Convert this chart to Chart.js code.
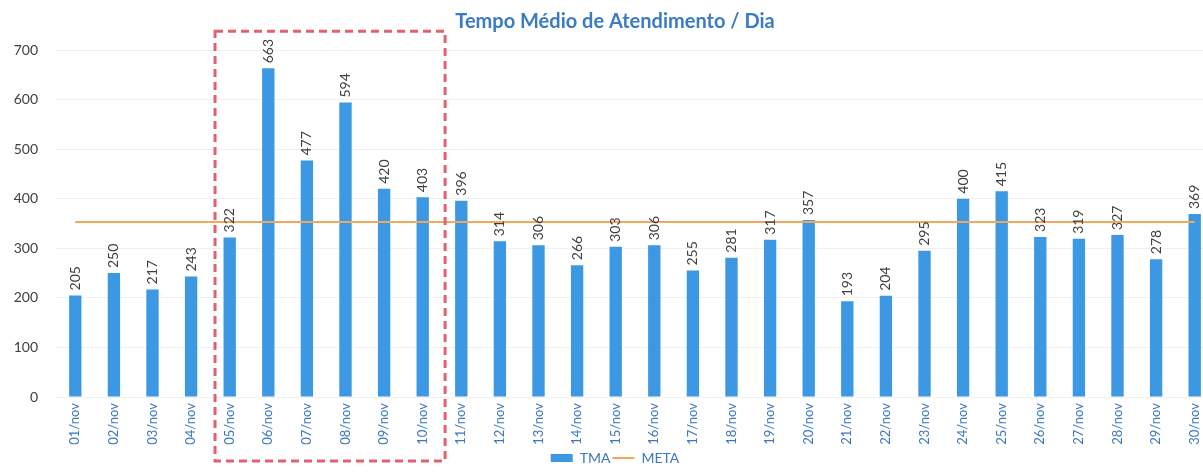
<!DOCTYPE html>
<html>
<head>
<meta charset="utf-8">
<script src="https://cdn.jsdelivr.net/npm/chart.js@4/dist/chart.umd.min.js"></script>
<style>
  html, body { margin: 0; padding: 0; background: #fff; overflow: hidden; }
  #wrap { width: 1230px; height: 475px; position: relative; }
</style>
</head>
<body>
<div id="wrap"><canvas id="tma-chart"></canvas></div>
<script>
// Dados
const dias = ['01/nov', '02/nov', '03/nov', '04/nov', '05/nov', '06/nov', '07/nov', '08/nov', '09/nov', '10/nov',
  '11/nov', '12/nov', '13/nov', '14/nov', '15/nov', '16/nov', '17/nov', '18/nov', '19/nov', '20/nov',
  '21/nov', '22/nov', '23/nov', '24/nov', '25/nov', '26/nov', '27/nov', '28/nov', '29/nov', '30/nov'];
const tma = [205, 250, 217, 243, 322, 663, 477, 594, 420, 403,
  396, 314, 306, 266, 303, 306, 255, 281, 317, 357,
  193, 204, 295, 400, 415, 323, 319, 327, 278, 369];
const meta = [353, 353, 353, 353, 353, 353, 353, 353, 353, 353,
  353, 353, 353, 353, 353, 353, 353, 353, 353, 353,
  353, 353, 353, 353, 353, 353, 353, 353, 353, 353];
const yTicks = [0, 100, 200, 300, 400, 500, 600, 700];

// destaque: 05/nov a 10/nov
const destaqueInicio = 4;
const destaqueFim = 9;

const FONT = "'Lato', 'Open Sans', sans-serif";

// rótulos de valor em cima das barras (rotacionados)
const valueLabels = {
  id: 'valueLabels',
  afterDatasetsDraw(chart) {
    const meta0 = chart.getDatasetMeta(0);
    const ctx = chart.ctx;
    ctx.save();
    ctx.fillStyle = '#404040';
    ctx.font = '14px ' + FONT;
    ctx.textAlign = 'left';
    ctx.textBaseline = 'middle';
    meta0.data.forEach((bar, i) => {
      ctx.save();
      ctx.translate(bar.x, bar.y - 5);
      ctx.rotate(-Math.PI / 2);
      ctx.fillText(String(tma[i]), 0, 0);
      ctx.restore();
    });
    ctx.restore();
  }
};

// retângulo tracejado vermelho
const destaqueBox = {
  id: 'destaqueBox',
  afterDraw(chart) {
    const x = chart.scales.x;
    const area = chart.chartArea;
    const w = x.getPixelForValue(1) - x.getPixelForValue(0);
    const left = x.getPixelForValue(destaqueInicio) - w * 0.38;
    const right = x.getPixelForValue(destaqueFim) + w * 0.58;
    const top = chart.scales.y.getPixelForValue(738);
    const bottom = area.bottom + 64;
    const ctx = chart.ctx;
    ctx.save();
    ctx.strokeStyle = '#e2606f';
    ctx.lineWidth = 3;
    ctx.setLineDash([8, 5]);
    ctx.strokeRect(left, top, right - left, bottom - top);
    ctx.restore();
  }
};

new Chart(document.getElementById('tma-chart'), {
  type: 'bar',
  data: {
    labels: dias,
    datasets: [
      {
        type: 'bar',
        label: 'TMA',
        data: tma,
        backgroundColor: '#3c98e2',
        borderWidth: 0,
        barPercentage: 0.32,
        categoryPercentage: 1,
        pointStyle: 'rect',
        order: 2
      },
      {
        type: 'line',
        label: 'META',
        data: meta,
        borderColor: '#f2a85c',
        backgroundColor: '#f2a85c',
        borderWidth: 2,
        pointRadius: 0,
        pointStyle: 'line',
        tension: 0,
        order: 1
      }
    ]
  },
  options: {
    responsive: true,
    maintainAspectRatio: false,
    animation: false,
    layout: { padding: 0 },
    plugins: {
      title: {
        display: true,
        text: 'Tempo Médio de Atendimento / Dia',
        color: '#3a7cc2',
        font: { family: FONT, size: 20, weight: 'bold' },
        padding: { top: 10, bottom: 16 }
      },
      legend: {
        position: 'bottom',
        labels: {
          usePointStyle: true,
          pointStyleWidth: 22,
          boxHeight: 8,
          padding: 2,
          color: '#3a78c0',
          font: { family: FONT, size: 14 },
          sort: (a, b) => a.datasetIndex - b.datasetIndex
        }
      },
      tooltip: { enabled: false }
    },
    scales: {
      x: {
        grid: { display: false, drawTicks: false },
        border: { display: false },
        ticks: {
          color: '#3a78c0',
          font: { family: FONT, size: 13 },
          maxRotation: 90,
          minRotation: 90,
          autoSkip: false,
          padding: 6
        },
        afterFit(scale) { scale.height = 52; }
      },
      y: {
        min: 0,
        max: 700,
        afterBuildTicks(scale) { scale.ticks = yTicks.map(v => ({ value: v })); },
        grid: { color: '#f0f0f0', drawTicks: false },
        border: { display: false },
        ticks: {
          color: '#404040',
          font: { family: FONT, size: 14 },
          padding: 18
        },
        afterFit(scale) { scale.width = 56; }
      },
      // eixo vazio à direita só para reservar espaço
      yRight: {
        position: 'right',
        display: true,
        grid: { display: false, drawTicks: false },
        border: { display: false },
        ticks: { display: false },
        afterFit(scale) { scale.width = 16; }
      }
    }
  },
  plugins: [valueLabels, destaqueBox]
});
</script>
</body>
</html>
